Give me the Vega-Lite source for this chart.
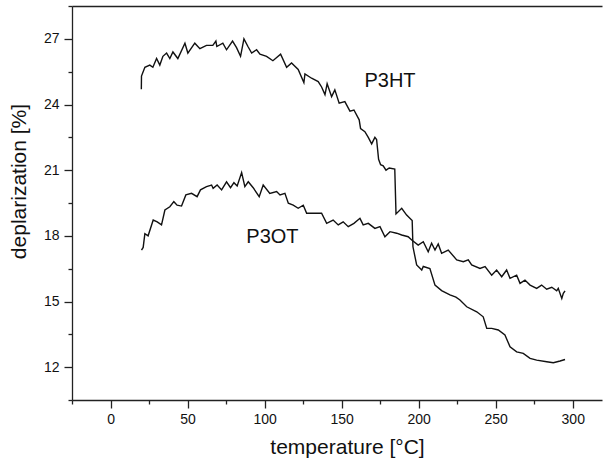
{
"$schema": "https://vega.github.io/schema/vega-lite/v6.json",
"width": 530, "height": 394,
"autosize": {"type": "none"},
"padding": {"left": 72, "top": 6, "right": 1, "bottom": 64},
"background": "white",
"config": {
  "view": {"stroke": null},
  "font": "Liberation Sans",
  "axis": {"domainColor": "#222", "tickColor": "#222", "labelColor": "#111", "titleColor": "#111", "grid": false,
    "labelFont": "Liberation Sans", "titleFont": "Liberation Sans", "labelFontSize": 14, "titleFontSize": 21,
    "titleFontWeight": "normal", "domainWidth": 1.3, "tickWidth": 1.3}
},
"datasets": {
  "curves": [
    {"s":"P3HT","t":20,"v":24.7},{"s":"P3HT","t":20.1,"v":25.3},{"s":"P3HT","t":22.3,"v":25.7},{"s":"P3HT","t":25.5,"v":25.8},{"s":"P3HT","t":27.5,"v":25.7},{"s":"P3HT","t":29.9,"v":26.1},{"s":"P3HT","t":32,"v":25.8},{"s":"P3HT","t":34,"v":26.2},{"s":"P3HT","t":36.4,"v":26.35},{"s":"P3HT","t":38.5,"v":26.1},{"s":"P3HT","t":40.5,"v":26.4},{"s":"P3HT","t":43.7,"v":26.1},{"s":"P3HT","t":48.3,"v":26.8},{"s":"P3HT","t":50.2,"v":26.35},{"s":"P3HT","t":54.7,"v":26.8},{"s":"P3HT","t":58,"v":26.55},{"s":"P3HT","t":62.3,"v":26.7},{"s":"P3HT","t":66.4,"v":26.7},{"s":"P3HT","t":68.4,"v":26.9},{"s":"P3HT","t":69,"v":26.65},{"s":"P3HT","t":72.9,"v":26.8},{"s":"P3HT","t":75.3,"v":26.5},{"s":"P3HT","t":79.2,"v":26.9},{"s":"P3HT","t":81.8,"v":26.6},{"s":"P3HT","t":84.4,"v":26.2},{"s":"P3HT","t":86.6,"v":27.0},{"s":"P3HT","t":89.2,"v":26.65},{"s":"P3HT","t":91.6,"v":26.35},{"s":"P3HT","t":94.8,"v":26.5},{"s":"P3HT","t":97,"v":26.3},{"s":"P3HT","t":101.3,"v":26.2},{"s":"P3HT","t":105.4,"v":26.0},{"s":"P3HT","t":110.4,"v":26.3},{"s":"P3HT","t":114.3,"v":25.7},{"s":"P3HT","t":117.5,"v":25.9},{"s":"P3HT","t":121.8,"v":25.6},{"s":"P3HT","t":125.5,"v":25.0},{"s":"P3HT","t":126.2,"v":25.4},{"s":"P3HT","t":130.5,"v":25.2},{"s":"P3HT","t":134.8,"v":25.05},{"s":"P3HT","t":137,"v":24.8},{"s":"P3HT","t":139.2,"v":24.45},{"s":"P3HT","t":140.6,"v":24.95},{"s":"P3HT","t":143.5,"v":24.36},{"s":"P3HT","t":145.6,"v":24.67},{"s":"P3HT","t":148.4,"v":24.06},{"s":"P3HT","t":152.1,"v":24.13},{"s":"P3HT","t":155.4,"v":23.7},{"s":"P3HT","t":158,"v":23.75},{"s":"P3HT","t":161.4,"v":23.3},{"s":"P3HT","t":162.3,"v":22.9},{"s":"P3HT","t":165.1,"v":22.76},{"s":"P3HT","t":167.3,"v":22.5},{"s":"P3HT","t":169.5,"v":22.2},{"s":"P3HT","t":171.6,"v":22.5},{"s":"P3HT","t":172.7,"v":22.4},{"s":"P3HT","t":174,"v":21.5},{"s":"P3HT","t":175.3,"v":21.25},{"s":"P3HT","t":177,"v":21.2},{"s":"P3HT","t":178.8,"v":21.0},{"s":"P3HT","t":180.9,"v":21.1},{"s":"P3HT","t":184.5,"v":21.05},{"s":"P3HT","t":185.3,"v":19.0},{"s":"P3HT","t":189,"v":19.26},{"s":"P3HT","t":192.2,"v":18.95},{"s":"P3HT","t":195.8,"v":18.7},{"s":"P3HT","t":196.3,"v":17.5},{"s":"P3HT","t":198.7,"v":16.67},{"s":"P3HT","t":202,"v":16.44},{"s":"P3HT","t":203,"v":16.6},{"s":"P3HT","t":207.3,"v":16.5},{"s":"P3HT","t":210.6,"v":15.75},{"s":"P3HT","t":214.9,"v":15.5},{"s":"P3HT","t":220.3,"v":15.3},{"s":"P3HT","t":224.2,"v":15.2},{"s":"P3HT","t":226.8,"v":15.07},{"s":"P3HT","t":231.2,"v":14.76},{"s":"P3HT","t":237.7,"v":14.53},{"s":"P3HT","t":241.9,"v":14.3},{"s":"P3HT","t":244.2,"v":13.77},{"s":"P3HT","t":247.4,"v":13.77},{"s":"P3HT","t":251.7,"v":13.7},{"s":"P3HT","t":256,"v":13.47},{"s":"P3HT","t":259.3,"v":12.93},{"s":"P3HT","t":263.6,"v":12.7},{"s":"P3HT","t":267.9,"v":12.63},{"s":"P3HT","t":272.3,"v":12.4},{"s":"P3HT","t":276.6,"v":12.32},{"s":"P3HT","t":283.1,"v":12.25},{"s":"P3HT","t":287.4,"v":12.2},{"s":"P3HT","t":291.8,"v":12.28},{"s":"P3HT","t":295,"v":12.35},
    {"s":"P3OT","t":20.1,"v":17.35},{"s":"P3OT","t":21.2,"v":17.47},{"s":"P3OT","t":22.3,"v":18.1},{"s":"P3OT","t":24.4,"v":18.0},{"s":"P3OT","t":27.7,"v":18.72},{"s":"P3OT","t":30.3,"v":18.64},{"s":"P3OT","t":33.1,"v":18.5},{"s":"P3OT","t":35.3,"v":19.18},{"s":"P3OT","t":38.5,"v":19.33},{"s":"P3OT","t":41.1,"v":19.56},{"s":"P3OT","t":43.2,"v":19.4},{"s":"P3OT","t":46.1,"v":19.36},{"s":"P3OT","t":48.9,"v":19.87},{"s":"P3OT","t":52.6,"v":19.94},{"s":"P3OT","t":56.2,"v":19.79},{"s":"P3OT","t":58.4,"v":20.1},{"s":"P3OT","t":62.3,"v":20.25},{"s":"P3OT","t":65.6,"v":20.32},{"s":"P3OT","t":66.6,"v":20.17},{"s":"P3OT","t":69.2,"v":20.32},{"s":"P3OT","t":72.1,"v":20.1},{"s":"P3OT","t":75.3,"v":20.47},{"s":"P3OT","t":77.9,"v":20.2},{"s":"P3OT","t":80.1,"v":20.43},{"s":"P3OT","t":82.2,"v":20.28},{"s":"P3OT","t":85.1,"v":20.89},{"s":"P3OT","t":87.2,"v":20.25},{"s":"P3OT","t":89.4,"v":20.47},{"s":"P3OT","t":92.6,"v":20.2},{"s":"P3OT","t":96.5,"v":19.79},{"s":"P3OT","t":99.1,"v":20.32},{"s":"P3OT","t":103.4,"v":19.94},{"s":"P3OT","t":107.8,"v":20.02},{"s":"P3OT","t":110,"v":19.87},{"s":"P3OT","t":113.2,"v":19.94},{"s":"P3OT","t":115.4,"v":19.49},{"s":"P3OT","t":118.6,"v":19.4},{"s":"P3OT","t":121.8,"v":19.26},{"s":"P3OT","t":125.1,"v":19.4},{"s":"P3OT","t":127.3,"v":19.03},{"s":"P3OT","t":131.6,"v":19.03},{"s":"P3OT","t":137,"v":19.03},{"s":"P3OT","t":140.3,"v":18.57},{"s":"P3OT","t":144.5,"v":18.72},{"s":"P3OT","t":147.8,"v":18.5},{"s":"P3OT","t":151,"v":18.64},{"s":"P3OT","t":154.3,"v":18.42},{"s":"P3OT","t":158,"v":18.57},{"s":"P3OT","t":161.9,"v":18.8},{"s":"P3OT","t":164,"v":18.5},{"s":"P3OT","t":167.3,"v":18.57},{"s":"P3OT","t":171.6,"v":18.34},{"s":"P3OT","t":174.9,"v":18.42},{"s":"P3OT","t":178.1,"v":17.96},{"s":"P3OT","t":181.4,"v":18.19},{"s":"P3OT","t":185.7,"v":18.12},{"s":"P3OT","t":189,"v":18.04},{"s":"P3OT","t":193.2,"v":17.96},{"s":"P3OT","t":195.5,"v":17.81},{"s":"P3OT","t":199.7,"v":17.58},{"s":"P3OT","t":203,"v":17.73},{"s":"P3OT","t":206.2,"v":17.27},{"s":"P3OT","t":208.4,"v":17.66},{"s":"P3OT","t":210.6,"v":17.35},{"s":"P3OT","t":212.7,"v":17.63},{"s":"P3OT","t":214.9,"v":17.2},{"s":"P3OT","t":219.2,"v":17.35},{"s":"P3OT","t":224.7,"v":16.9},{"s":"P3OT","t":229,"v":16.82},{"s":"P3OT","t":232.2,"v":16.9},{"s":"P3OT","t":234.4,"v":16.67},{"s":"P3OT","t":239.8,"v":16.51},{"s":"P3OT","t":243.1,"v":16.6},{"s":"P3OT","t":247.4,"v":16.2},{"s":"P3OT","t":250.6,"v":16.44},{"s":"P3OT","t":253.9,"v":16.13},{"s":"P3OT","t":257.1,"v":16.44},{"s":"P3OT","t":259.3,"v":16.06},{"s":"P3OT","t":263.6,"v":16.2},{"s":"P3OT","t":265.8,"v":15.83},{"s":"P3OT","t":269,"v":15.98},{"s":"P3OT","t":272.3,"v":15.75},{"s":"P3OT","t":276.6,"v":15.6},{"s":"P3OT","t":279.8,"v":15.75},{"s":"P3OT","t":283.1,"v":15.56},{"s":"P3OT","t":286.4,"v":15.65},{"s":"P3OT","t":289.6,"v":15.49},{"s":"P3OT","t":290.6,"v":15.6},{"s":"P3OT","t":292.9,"v":15.14},{"s":"P3OT","t":293.9,"v":15.37},{"s":"P3OT","t":295,"v":15.49}
  ],
  "labels": [
    {"t": 181.4, "v": 25.08, "label": "P3HT"},
    {"t": 105.1, "v": 17.95, "label": "P3OT"}
  ]
},
"layer": [
  {
    "data": {"name": "curves"},
    "mark": {"type": "line", "color": "#111", "strokeWidth": 1.4},
    "encoding": {
      "x": {"field": "t", "type": "quantitative",
        "scale": {"domain": [-25, 319], "nice": false, "zero": false},
        "axis": {"orient": "bottom", "values": [0, 50, 100, 150, 200, 250, 300], "tickSize": 8, "labelPadding": 4,
          "title": "temperature [°C]", "titlePadding": 10, "titleX": 275}},
      "y": {"field": "v", "type": "quantitative",
        "scale": {"domain": [10.5, 28.5], "nice": false, "zero": false},
        "axis": {"orient": "left", "values": [12, 15, 18, 21, 24, 27], "tickSize": 8, "labelPadding": 5,
          "title": "deplarization [%]", "titleX": -53, "titleY": 175, "titleBaseline": "middle", "titleAlign": "center", "titleAngle": 270}},
      "detail": {"field": "s"}
    }
  },
  {
    "data": {"name": "curves"},
    "mark": {"type": "point", "opacity": 0},
    "encoding": {
      "x": {"field": "t", "type": "quantitative",
        "axis": {"orient": "bottom", "values": [-25, 25, 75, 125, 175, 225, 275], "tickSize": 4, "labels": false, "domain": false, "title": null}},
      "y": {"field": "v", "type": "quantitative",
        "axis": {"orient": "left", "values": [10.5, 13.5, 16.5, 19.5, 22.5, 25.5, 28.5], "tickSize": 4, "labels": false, "domain": false, "title": null}}
    }
  },
  {
    "data": {"name": "labels"},
    "mark": {"type": "text", "fontSize": 20, "font": "Liberation Sans", "color": "#111"},
    "encoding": {
      "x": {"field": "t", "type": "quantitative",
        "axis": {"orient": "top", "ticks": false, "labels": false, "title": null, "domain": true}},
      "y": {"field": "v", "type": "quantitative", "axis": null},
      "text": {"field": "label"}
    }
  }
],
"resolve": {"axis": {"x": "independent", "y": "independent"}}
}
